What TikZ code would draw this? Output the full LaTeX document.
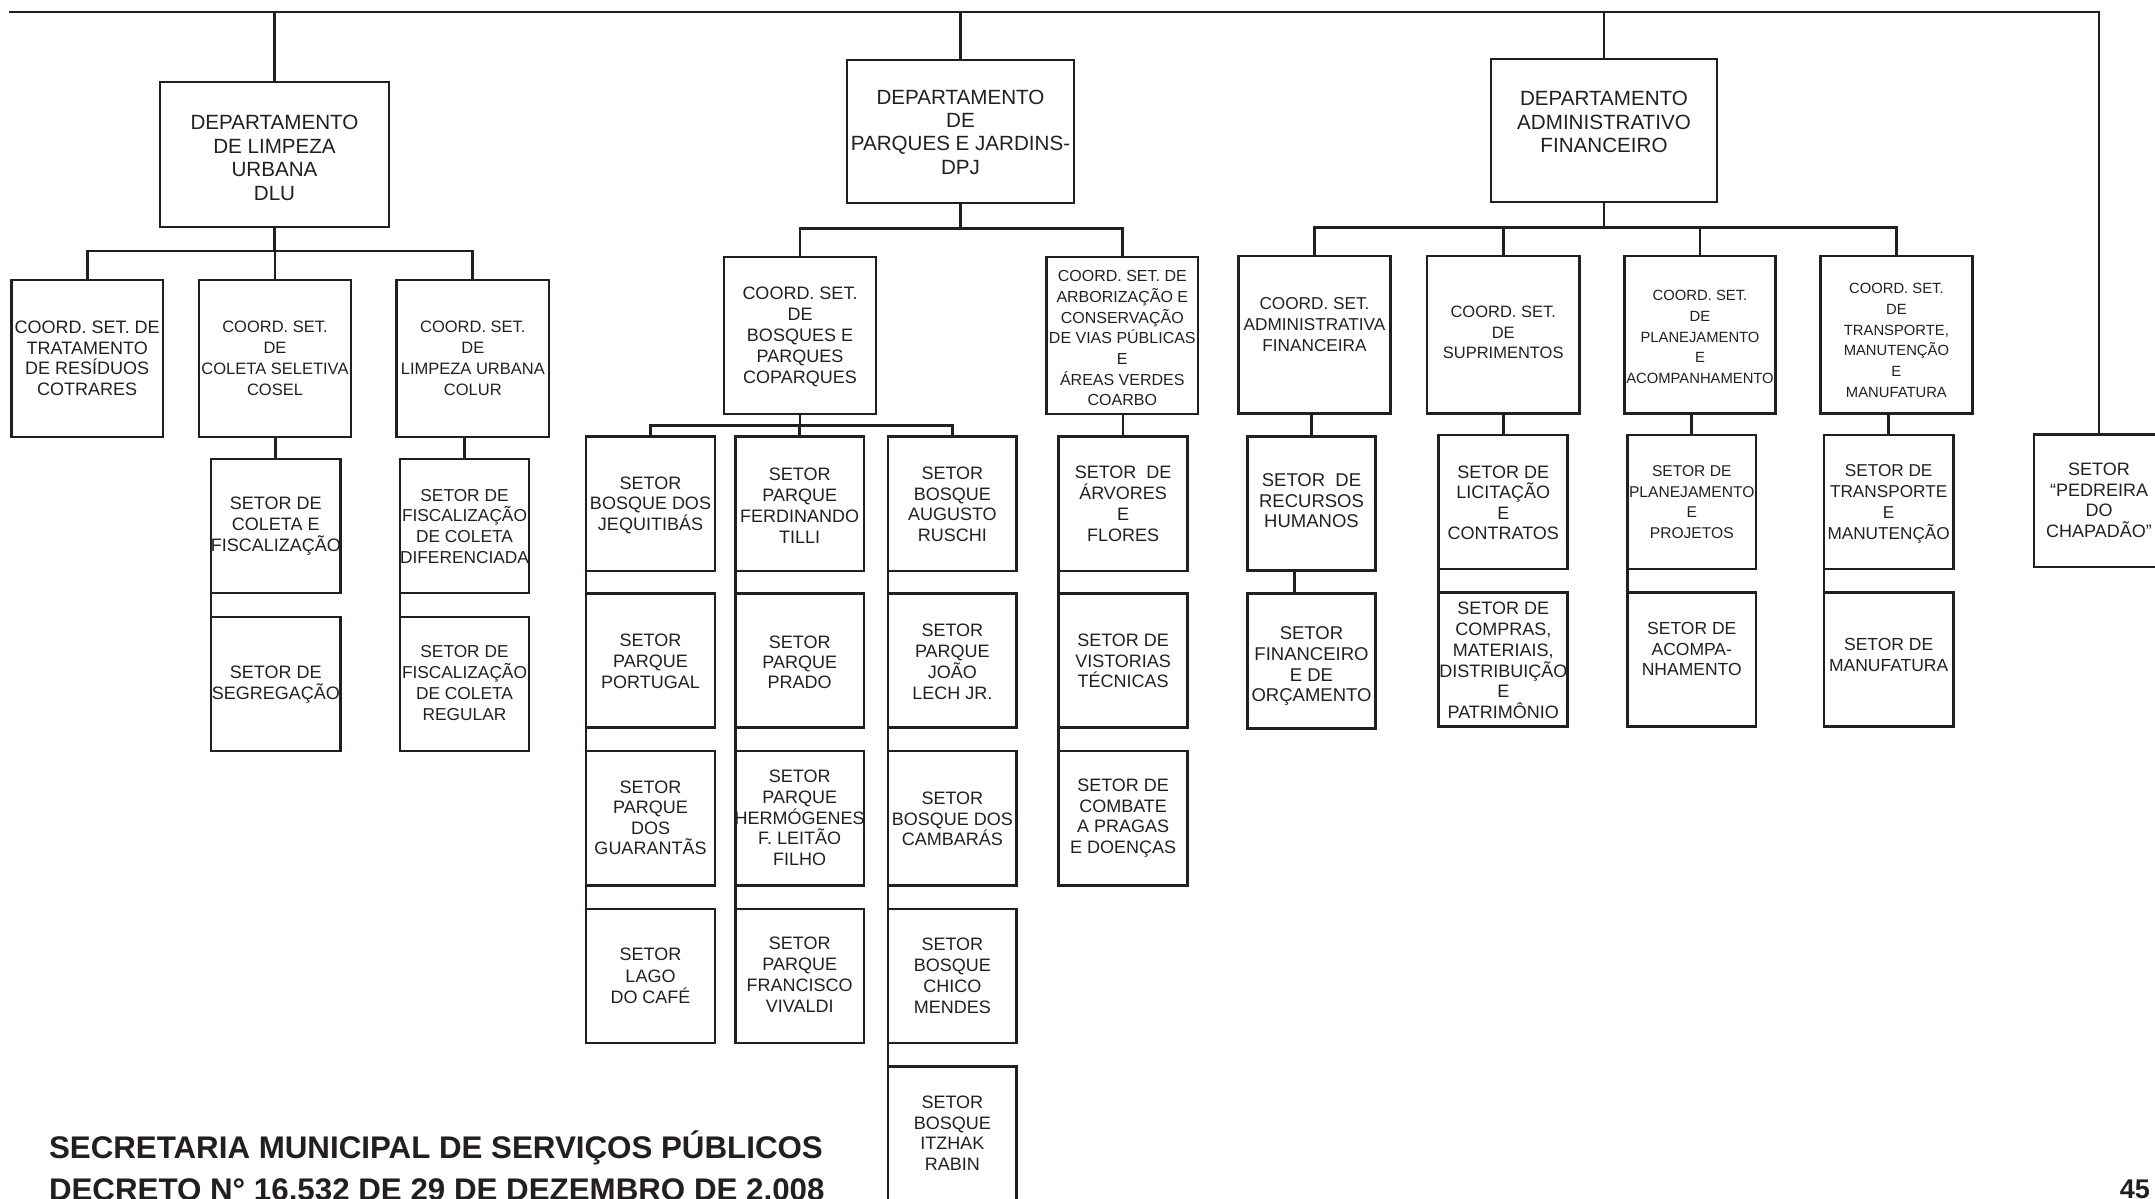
\documentclass[tikz,border=0pt]{standalone}
\usepackage{fontspec}
\setmainfont{Liberation Sans}
\definecolor{ink}{RGB}{35,31,32}
\newcommand\strA{\rule{0pt}{0.95em}}
\newcommand\strB{\rule[-0.22em]{0pt}{0.22em}}
\newcommand\mybox[5]{\node[box, minimum width={(#4-#2)*1pt}, minimum height={(#5-#3)*1pt}] (#1) at ({(#2+#4)/2},{(#3+#5)/2}) {};}
\newcommand\mytext[6]{\node[txt, font={\fontsize{#4}{#5}\selectfont}] (#1) at (#2.center |- 0,#3) {\strA#6\strB};}
\begin{document}
\begin{tikzpicture}[x=1pt,y=-1pt,
  box/.style={draw=ink, line width=2.7pt, rectangle, inner sep=0pt, outer sep=0pt},
  txt/.style={align=center, inner sep=0pt, outer sep=0pt, text=ink},
  conn/.style={draw=ink, line width=2.7pt},
  foot/.style={anchor=base west, inner sep=0pt, text=ink, font={\fontsize{31.3}{36}\selectfont\bfseries}}]
\useasboundingbox (0,0) rectangle (2155,1199);
\clip (0,0) rectangle (2155,1199);

% departments
\mybox{dlu}{160}{82}{389}{227}
\mybox{dpj}{847}{60}{1074}{203}
\mybox{daf}{1491}{59}{1717}{202}
% DLU
\mybox{cotrares}{11.5}{280}{163}{437}
\mybox{cosel}{199}{280}{351}{437}
\mybox{colur}{396.6}{280}{549}{437}
\mybox{coleta}{211}{459}{340.6}{593}
\mybox{segreg}{211}{617}{340.6}{751}
\mybox{difer}{400}{459}{529}{593}
\mybox{regular}{400}{617}{529}{751}
% DPJ
\mybox{copar}{724}{257}{876}{414}
\mybox{coarbo}{1046.6}{257}{1198}{414}
\mybox{jequit}{586}{436.7}{715}{571}
\mybox{portugal}{586}{593.3}{715}{727.3}
\mybox{guarant}{586}{751}{715}{885.3}
\mybox{lago}{586}{909}{715}{1043}
\mybox{tilli}{735.4}{436.7}{864}{571}
\mybox{prado}{735.4}{593.3}{864}{727.3}
\mybox{hermog}{735.4}{751}{864}{885.3}
\mybox{vivaldi}{735.4}{909}{864}{1043}
\mybox{ruschi}{888}{436.7}{1016.7}{571}
\mybox{joao}{888}{593.3}{1016.7}{727.3}
\mybox{cambaras}{888}{751}{1016.7}{885.3}
\mybox{chico}{888}{909}{1016.7}{1043}
\mybox{rabin}{888}{1066.7}{1016.7}{1215}
\mybox{arvores}{1058.6}{436.7}{1187.6}{571}
\mybox{vistorias}{1058.6}{593.3}{1187.6}{727.3}
\mybox{pragas}{1058.6}{751}{1187.6}{885.3}
% DAF
\mybox{admf}{1238.4}{256}{1390.6}{413.3}
\mybox{supr}{1427}{256}{1579.4}{413.3}
\mybox{plan}{1624.5}{256}{1775.5}{413.3}
\mybox{trans}{1820.6}{256}{1972.2}{413.3}
\mybox{rh}{1247.3}{436.7}{1375.7}{570.7}
\mybox{fin}{1247.3}{593.3}{1375.7}{728.3}
\mybox{lic}{1438.7}{435}{1567.8}{569}
\mybox{compras}{1438.7}{592.3}{1567.8}{726.7}
\mybox{plans}{1627.5}{435}{1756}{569}
\mybox{acomp}{1627.5}{592.3}{1756}{726.7}
\mybox{transs}{1824}{435}{1953.3}{569}
\mybox{manuf}{1824}{592.3}{1953.3}{726.7}
\mybox{pedreira}{2034}{434.3}{2164}{567}

% texts
\mytext{t-dlu}{dlu}{157.5}{20.6}{23.5}{DEPARTAMENTO\\DE LIMPEZA\\URBANA\\DLU}
\mytext{t-dpj}{dpj}{131.7}{20.6}{23.3}{DEPARTAMENTO\\DE\\PARQUES E JARDINS-\\DPJ}
\mytext{t-daf}{daf}{121.7}{20.6}{23.3}{DEPARTAMENTO\\ADMINISTRATIVO\\FINANCEIRO}
\mytext{t-cotrares}{cotrares}{358}{18}{20.8}{COORD. SET. DE\\TRATAMENTO\\DE RESÍDUOS\\COTRARES}
\mytext{t-cosel}{cosel}{358}{16.5}{20.8}{COORD. SET.\\DE\\COLETA SELETIVA\\COSEL}
\mytext{t-colur}{colur}{358}{16.5}{20.8}{COORD. SET.\\DE\\LIMPEZA URBANA\\COLUR}
\mytext{t-coleta}{coleta}{524}{18}{21}{SETOR DE\\COLETA E\\FISCALIZAÇÃO}
\mytext{t-segreg}{segreg}{682.5}{18}{21}{SETOR DE\\SEGREGAÇÃO}
\mytext{t-difer}{difer}{526}{17.3}{20.8}{SETOR DE\\FISCALIZAÇÃO\\DE COLETA\\DIFERENCIADA}
\mytext{t-regular}{regular}{682.5}{17.3}{20.8}{SETOR DE\\FISCALIZAÇÃO\\DE COLETA\\REGULAR}
\mytext{t-copar}{copar}{335}{18}{20.8}{COORD. SET.\\DE\\BOSQUES E\\PARQUES\\COPARQUES}
\mytext{t-coarbo}{coarbo}{338}{16}{20.7}{COORD. SET. DE\\ARBORIZAÇÃO E\\CONSERVAÇÃO\\DE VIAS PÚBLICAS\\E\\ÁREAS VERDES\\COARBO}
\mytext{t-jequit}{jequit}{503}{18}{20.5}{SETOR\\BOSQUE DOS\\JEQUITIBÁS}
\mytext{t-tilli}{tilli}{505}{18}{21}{SETOR\\PARQUE\\FERDINANDO\\TILLI}
\mytext{t-ruschi}{ruschi}{504}{18}{20.7}{SETOR\\BOSQUE\\AUGUSTO\\RUSCHI}
\mytext{t-arvores}{arvores}{503.3}{18}{21}{SETOR\ \ DE\\ÁRVORES\\E\\FLORES}
\mytext{t-portugal}{portugal}{660.8}{18}{20.8}{SETOR\\PARQUE\\PORTUGAL}
\mytext{t-prado}{prado}{662}{18}{20.3}{SETOR\\PARQUE\\PRADO}
\mytext{t-joao}{joao}{661.3}{18}{20.9}{SETOR\\PARQUE\\JOÃO\\LECH JR.}
\mytext{t-vistorias}{vistorias}{660.5}{18}{20.5}{SETOR DE\\VISTORIAS\\TÉCNICAS}
\mytext{t-guarant}{guarant}{817.5}{18}{20.5}{SETOR\\PARQUE\\DOS\\GUARANTÃS}
\mytext{t-hermog}{hermog}{817.6}{18}{20.8}{SETOR\\PARQUE\\HERMÓGENES\\F. LEITÃO\\FILHO}
\mytext{t-cambaras}{cambaras}{818.5}{18}{20.4}{SETOR\\BOSQUE DOS\\CAMBARÁS}
\mytext{t-pragas}{pragas}{816}{18}{20.8}{SETOR DE\\COMBATE\\A PRAGAS\\E DOENÇAS}
\mytext{t-lago}{lago}{975.5}{18}{21.3}{SETOR\\LAGO\\DO CAFÉ}
\mytext{t-vivaldi}{vivaldi}{974.5}{18}{20.8}{SETOR\\PARQUE\\FRANCISCO\\VIVALDI}
\mytext{t-chico}{chico}{975.5}{18}{20.8}{SETOR\\BOSQUE\\CHICO\\MENDES}
\mytext{t-rabin}{rabin}{1133}{18}{20.8}{SETOR\\BOSQUE\\ITZHAK\\RABIN}
\mytext{t-admf}{admf}{324}{17.2}{20.8}{COORD. SET.\\ADMINISTRATIVA\\FINANCEIRA}
\mytext{t-supr}{supr}{332.3}{16.5}{20.5}{COORD. SET.\\DE\\SUPRIMENTOS}
\mytext{t-plan}{plan}{336.7}{14.8}{20.8}{COORD. SET.\\DE\\PLANEJAMENTO\\E\\ACOMPANHAMENTO}
\mytext{t-trans}{trans}{340}{14.8}{20.7}{COORD. SET.\\DE\\TRANSPORTE,\\MANUTENÇÃO\\E\\MANUFATURA}
\mytext{t-rh}{rh}{500.5}{18.5}{20.4}{SETOR\ \ DE\\RECURSOS\\HUMANOS}
\mytext{t-fin}{fin}{664}{18.5}{20.6}{SETOR\\FINANCEIRO\\E DE\\ORÇAMENTO}
\mytext{t-lic}{lic}{502.5}{18}{20.5}{SETOR DE\\LICITAÇÃO\\E\\CONTRATOS}
\mytext{t-compras}{compras}{660}{18}{20.9}{SETOR DE\\COMPRAS,\\MATERIAIS,\\DISTRIBUIÇÃO\\E\\PATRIMÔNIO}
\mytext{t-plans}{plans}{501.7}{15.6}{20.7}{SETOR DE\\PLANEJAMENTO\\E\\PROJETOS}
\mytext{t-acomp}{acomp}{649}{17.5}{20.5}{SETOR DE\\ACOMPA-\\NHAMENTO}
\mytext{t-transs}{transs}{501.7}{17.2}{20.7}{SETOR DE\\TRANSPORTE\\E\\MANUTENÇÃO}
\mytext{t-manuf}{manuf}{654.5}{17.5}{21}{SETOR DE\\MANUFATURA}
\mytext{t-pedreira}{pedreira}{500}{18}{20.8}{SETOR\\“PEDREIRA\\DO\\CHAPADÃO”}

% top connectors
\coordinate (topL) at (9,12);
\coordinate (topR) at (2099,12);
\draw[conn] (topL) -- (topR) -- (topR |- pedreira.north);
\draw[conn] (dlu.north) -- (dlu.north |- topL);
\draw[conn] (dpj.north) -- (dpj.north |- topL);
\draw[conn] (daf.north) -- (daf.north |- topL);

% DLU connectors
\coordinate (bDLU) at (274.5,251);
\draw[conn] (dlu.south) -- (bDLU);
\draw[conn] (cotrares.north) -- (cotrares.north |- bDLU) -- (colur.north |- bDLU) -- (colur.north);
\draw[conn] (cosel.north) -- (cosel.north |- bDLU);
\draw[conn] (coleta.north) -- (coleta.north |- cosel.south);
\draw[conn] (difer.north) -- (difer.north |- colur.south);
\draw[conn] (coleta.south west) -- (segreg.north west);
\draw[conn] (difer.south west) -- (regular.north west);

% DPJ connectors
\coordinate (bDPJ) at (960.5,228.7);
\draw[conn] (dpj.south) -- (bDPJ);
\draw[conn] (copar.north) -- (copar.north |- bDPJ) -- (coarbo.north |- bDPJ) -- (coarbo.north);
\coordinate (bCOP) at (800,425.3);
\draw[conn] (copar.south) -- (bCOP);
\draw[conn] (jequit.north) -- (jequit.north |- bCOP) -- (ruschi.north |- bCOP) -- (ruschi.north);
\draw[conn] (tilli.north) -- (tilli.north |- bCOP);
\draw[conn] (arvores.north) -- (arvores.north |- coarbo.south);
\draw[conn] (jequit.south west) -- (portugal.north west) (portugal.south west) -- (guarant.north west) (guarant.south west) -- (lago.north west);
\draw[conn] (tilli.south west) -- (prado.north west) (prado.south west) -- (hermog.north west) (hermog.south west) -- (vivaldi.north west);
\draw[conn] (ruschi.south west) -- (joao.north west) (joao.south west) -- (cambaras.north west) (cambaras.south west) -- (chico.north west) (chico.south west) -- (rabin.north west);
\draw[conn] (arvores.south west) -- (vistorias.north west) (vistorias.south west) -- (pragas.north west);

% DAF connectors
\coordinate (bDAF) at (1604,227.7);
\draw[conn] (daf.south) -- (bDAF);
\draw[conn] (admf.north) -- (admf.north |- bDAF) -- (trans.north |- bDAF) -- (trans.north);
\draw[conn] (supr.north) -- (supr.north |- bDAF);
\draw[conn] (plan.north) -- (plan.north |- bDAF);
\draw[conn] (rh.north) -- (rh.north |- admf.south);
\draw[conn] ([xshift=-17pt]rh.south) -- ([xshift=-17pt]fin.north);
\draw[conn] (lic.north) -- (lic.north |- supr.south);
\draw[conn] (lic.south west) -- (compras.north west);
\draw[conn] (plans.north) -- (plans.north |- plan.south);
\draw[conn] (plans.south west) -- (acomp.north west);
\draw[conn] (transs.north) -- (transs.north |- trans.south);
\draw[conn] (transs.south west) -- (manuf.north west);

% footer
\node[foot] (sec) at (48.8,1158.3) {SECRETARIA MUNICIPAL DE SERVIÇOS PÚBLICOS};
\node[foot] (dec) at (48.8,1200) {DECRETO N° 16.532 DE 29 DE DEZEMBRO DE 2.008};
\node[anchor=base east, inner sep=0pt, text=ink, font={\fontsize{27}{30}\selectfont\bfseries}] (pg) at (2150,1198) {45};
\end{tikzpicture}
\end{document}
